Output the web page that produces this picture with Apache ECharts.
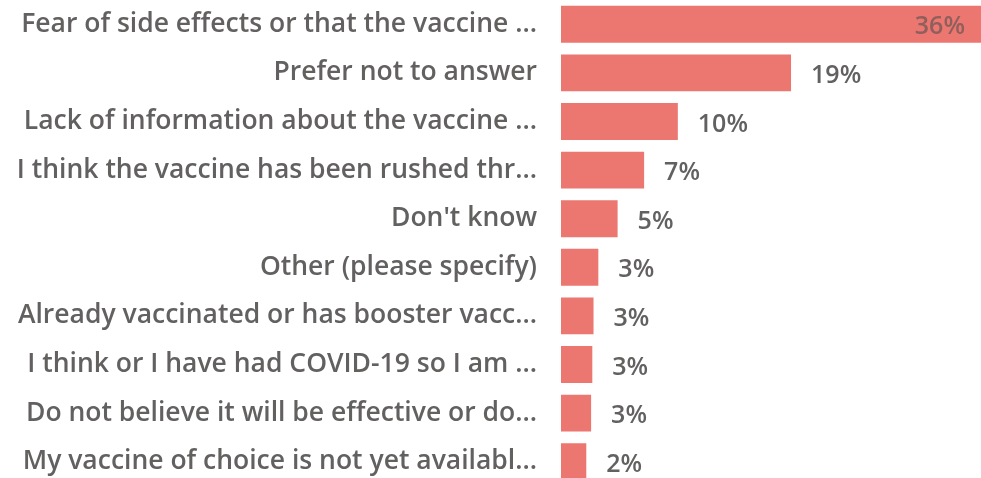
<!DOCTYPE html>
<html>
<head>
<meta charset="utf-8">
<script src="https://cdn.jsdelivr.net/npm/echarts@6/dist/echarts.min.js"></script>
<style>
  html, body { margin: 0; padding: 0; background: #fff; }
  #main { width: 981px; height: 478px; }
</style>
</head>
<body>
<div id="main"></div>
<script>
const categories = [
  'Fear of side effects or that the vaccine ...',
  'Prefer not to answer',
  'Lack of information about the vaccine ...',
  'I think the vaccine has been rushed thr...',
  "Don't know",
  'Other (please specify)',
  'Already vaccinated or has booster vacc...',
  'I think or I have had COVID-19 so I am ...',
  'Do not believe it will be effective or do...',
  'My vaccine of choice is not yet availabl...',
]
const values = [36.2, 19.1, 9.7, 6.9, 4.7, 3.1, 2.7, 2.6, 2.5, 2.1]
const labels = ['36%', '19%', '10%', '7%', '5%', '3%', '3%', '3%', '3%', '2%']

const myChart = echarts.init(document.getElementById('main'))
myChart.setOption({
  animation: false,
  grid: {
    left: 561,
    top: 0,
    width: 436,
    height: 486,
    outerBoundsMode: 'none',
  },
  xAxis: {
    type: 'value',
    min: 0,
    max: 36.2,
    show: false,
  },
  yAxis: {
    type: 'category',
    inverse: true,
    data: categories,
    axisLine: { show: false },
    axisTick: { show: false },
    axisLabel: {
      color: '#636160',
      fontFamily: 'Open Sans',
      fontWeight: 600,
      fontSize: 26.5,
      margin: 24,
    },
  },
  series: [
    {
      type: 'bar',
      barCategoryGap: '24%',
      itemStyle: { color: '#ec7670' },
      label: {
        show: true,
        position: 'right',
        distance: 20,
        offset: [0, 3],
        color: '#636160',
        fontFamily: 'Open Sans',
        fontWeight: 600,
        fontSize: 25,
        formatter: p => labels[p.dataIndex],
      },
      data: values.map((v, i) => i === 0
        ? { value: v, label: { position: 'insideRight', distance: 32, color: '#8f5f5c' } }
        : v),
    },
  ],
})
</script>
</body>
</html>
